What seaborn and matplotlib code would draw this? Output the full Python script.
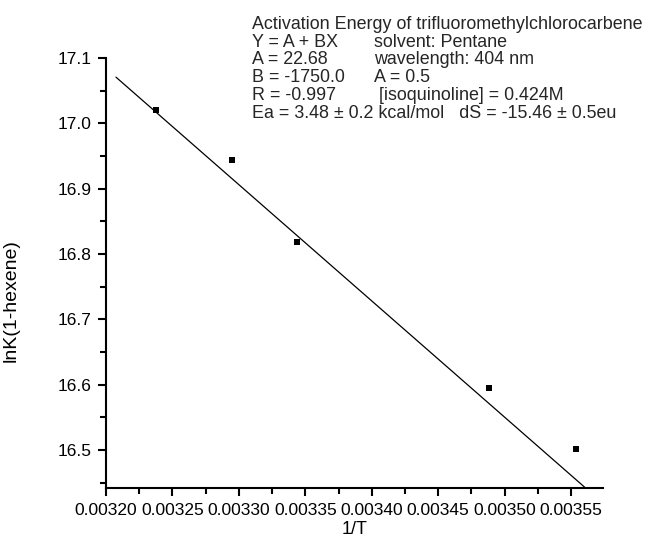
import matplotlib
matplotlib.use("Agg")
import matplotlib.pyplot as plt
import seaborn as sns
import pandas as pd
from matplotlib.ticker import MultipleLocator, FormatStrFormatter

# measured points (1/T vs lnK)
inv_t = [0.003238, 0.003295, 0.003344, 0.003488, 0.003554]
ln_k = [17.021, 16.944, 16.819, 16.595, 16.5015]

# fitted line end points as drawn
fit_x = [0.0032075, 0.0035602]
fit_y = [17.0707, 16.443]

title_lines = [
    "Activation Energy of trifluoromethylchlorocarbene",
    "Y = A + BX",
    "A = 22.68",
    "B = -1750.0",
    "R = -0.997",
    "Ea = 3.48 \u00b1 0.2 kcal/mol   dS = -15.46 \u00b1 0.5eu",
]
side_lines = [
    "",
    "solvent: Pentane",
    "wavelength: 404 nm",
    "A = 0.5",
    " [isoquinoline] = 0.424M",
    "",
]

sns.set_theme(style="ticks")
plt.rcParams["font.family"] = ["Liberation Sans", "DejaVu Sans"]

W, H = 655, 538
fig = plt.figure(figsize=(W / 100, H / 100), dpi=100)
ax = fig.add_axes([106 / W, 1 - 488 / H, (603 - 106) / W, (488 - 58) / H])

df = pd.DataFrame({"x": inv_t, "y": ln_k})
fit = pd.DataFrame({"x": fit_x, "y": fit_y})
sns.lineplot(data=fit, x="x", y="y", ax=ax, color="black", linewidth=0.9)
sns.scatterplot(data=df, x="x", y="y", ax=ax, marker="s", color="black",
                s=22, edgecolor="black", linewidth=0, zorder=3)

ax.set_xlim(0.00320, 0.003574)
ax.set_ylim(16.4418, 17.1)
ax.xaxis.set_major_locator(MultipleLocator(0.00005))
ax.xaxis.set_minor_locator(MultipleLocator(0.000025))
ax.xaxis.set_major_formatter(FormatStrFormatter("%.5f"))
ax.yaxis.set_major_locator(MultipleLocator(0.1))
ax.yaxis.set_minor_locator(MultipleLocator(0.05))
ax.yaxis.set_major_formatter(FormatStrFormatter("%.1f"))

for side in ["top", "right"]:
    ax.spines[side].set_visible(False)
for side in ["left", "bottom"]:
    ax.spines[side].set_linewidth(1.5)
    ax.spines[side].set_color("black")
ax.tick_params(which="major", direction="out", length=6, width=1.5,
               labelsize=12.5, colors="black")
ax.tick_params(axis="x", which="major", pad=5)
ax.tick_params(axis="y", which="major", pad=4.5)
ax.tick_params(which="minor", direction="out", length=4, width=1.5, colors="black")

ax.set_xlabel("1/T", fontsize=13, color="black", labelpad=2)
ax.set_ylabel("lnK(1-hexene)", fontsize=14, color="black")
ax.yaxis.set_label_coords(-0.173, 0.435)

base = 28.7
for i, (a, b) in enumerate(zip(title_lines, side_lines)):
    yb = 1 - (base + i * 17.9) / H
    fig.text(252 / W, yb, a, fontsize=12.9, va="baseline", ha="left")
    if b:
        fig.text(374 / W, yb, b, fontsize=12.9, va="baseline", ha="left")

fig.savefig("out.png", dpi=100, facecolor="white")
